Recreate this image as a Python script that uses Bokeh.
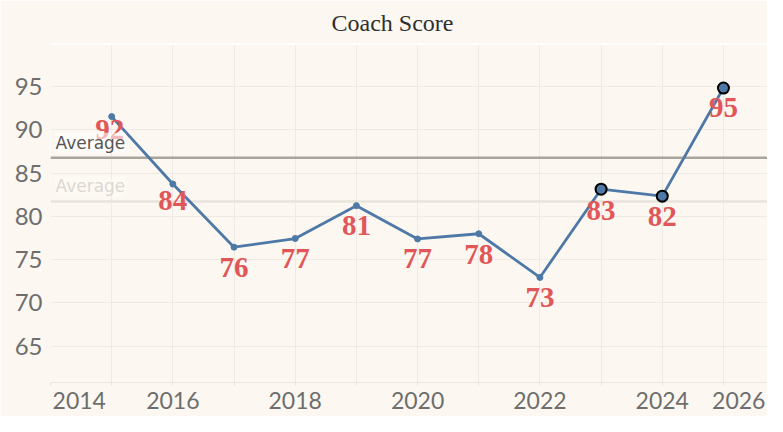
from bokeh.plotting import figure
from bokeh.models import FixedTicker, Span, Label, ColumnDataSource
from bokeh.embed import file_html
from bokeh.resources import INLINE
from bokeh.core.properties import value

# ---- data ----
YEARS = [2015, 2016, 2017, 2018, 2019, 2020, 2021, 2022, 2023, 2024, 2025]
SCORES = [91.55, 83.75, 76.45, 77.45, 81.25, 77.4, 78.0, 72.95, 83.15, 82.35, 94.85]
SCORE_LABELS = ["92", "84", "76", "77", "81", "77", "78", "73", "83", "82", "95"]
HIGHLIGHT_YEARS = [2023, 2024, 2025]
X_TICKS = [2016, 2018, 2020, 2022, 2024]
X_EDGE_LABELS = ["2014", "2026"]
Y_TICKS = [65, 70, 75, 80, 85, 90, 95]
TITLE = "Coach Score"
AVG_TEXT = "Average"

# ---- styling ----
X_START, X_END = 2014, 2025.72
Y_START, Y_END = 60.8, 100
EDGE_SHIFT = 0.47          # edge tick labels are pulled inside the frame (in years)
BG = "#fcf8f1"
GRID = "#efebe4"
BLUE = "#4e79a7"
RED = "#e15759"
TICK_FONT = "Lato"
TICK_COLOR = "#6e6e6e"
LABEL_DX = [-2, 0, 0, 0, 0, 0, 0, 0, 0, 0, 0]
LABEL_DY = [13, 16, 20, 20, 20, 20, 21, 20, 21, 20, 19]

hl = [y in HIGHLIGHT_YEARS for y in YEARS]
avg_all = sum(SCORES) / len(SCORES)
hl_scores = [s for s, h in zip(SCORES, hl) if h]
avg_hl = sum(hl_scores) / len(hl_scores)

src = ColumnDataSource(dict(x=YEARS, y=SCORES, t=SCORE_LABELS, dx=LABEL_DX, dy=LABEL_DY))
src_norm = ColumnDataSource(dict(x=[x for x, h in zip(YEARS, hl) if not h],
                                 y=[s for s, h in zip(SCORES, hl) if not h]))
src_hl = ColumnDataSource(dict(x=[x for x, h in zip(YEARS, hl) if h], y=hl_scores))

p = figure(width=767, height=416, x_range=(X_START, X_END), y_range=(Y_START, Y_END),
           output_backend="svg", toolbar_location=None, tools="",
           min_border_left=50, min_border_right=0, min_border_top=42, min_border_bottom=34)
p.background_fill_color = BG
p.border_fill_color = BG
p.outline_line_color = None

p.title.text = TITLE
p.title.align = "left"
p.title.offset = 281
p.title.text_font = "Liberation Serif"
p.title.text_font_style = "normal"
p.title.text_font_size = "24px"
p.title.text_color = "#2f2f2f"
p.title.standoff = 15
p.title.vertical_align = "bottom"

# grids
all_years = list(range(2014, 2026))
p.xgrid.ticker = FixedTicker(ticks=all_years)
p.ygrid.ticker = FixedTicker(ticks=list(range(60, 101, 5)))
p.xgrid.grid_line_color = GRID
p.ygrid.grid_line_color = GRID

# x axis (edge labels shifted inside, as in the original)
left_pos = X_START + EDGE_SHIFT
right_pos = X_END - EDGE_SHIFT
xa = p.xaxis[0]
xa.ticker = FixedTicker(ticks=[left_pos] + X_TICKS + [right_pos], minor_ticks=all_years)
xa.major_label_overrides = {left_pos: X_EDGE_LABELS[0], right_pos: X_EDGE_LABELS[1]}
xa.axis_line_color = "#ebe7df"
xa.major_tick_line_color = None
xa.minor_tick_line_color = "#e6e2da"
xa.major_tick_out = 0
xa.major_tick_in = 0
xa.minor_tick_out = 3
xa.minor_tick_in = 0
xa.major_label_standoff = 6
xa.major_label_text_font = TICK_FONT
xa.major_label_text_font_size = "23px"
xa.major_label_text_color = TICK_COLOR

# y axis
ya = p.yaxis[0]
ya.ticker = FixedTicker(ticks=Y_TICKS)
ya.axis_line_color = None
ya.major_tick_line_color = None
ya.minor_tick_line_color = None
ya.major_tick_out = 0
ya.major_label_standoff = 8
ya.major_label_text_font = TICK_FONT
ya.major_label_text_font_size = "24px"
ya.major_label_text_color = TICK_COLOR

# average lines
p.add_layout(Span(location=avg_all, dimension="width", line_color="#e8e3db", line_width=2.5, level="underlay"))
p.add_layout(Span(location=avg_hl, dimension="width", line_color="#aaa59c", line_width=2.5, level="underlay"))

# series
p.line("x", "y", source=src, line_color=BLUE, line_width=2.8)
p.scatter("x", "y", source=src_norm, size=6, fill_color=BLUE, line_color=BLUE)
p.scatter("x", "y", source=src_hl, size=11, fill_color=BLUE, line_color="black", line_width=2)
p.text("x", "y", text="t", source=src, x_offset="dx", y_offset="dy",
       text_font=value("Liberation Serif"), text_font_style="bold", text_font_size="29px",
       text_color=RED, text_align="center", text_baseline="middle")

# average labels
p.add_layout(Label(x=X_START, y=avg_all, text=AVG_TEXT, x_offset=5, y_offset=5,
                   text_baseline="bottom", text_font="DejaVu Sans", text_font_size="17px",
                   text_color="#dcd8d1", background_fill_color="white", background_fill_alpha=0.25))
p.add_layout(Label(x=X_START, y=avg_hl, text=AVG_TEXT, x_offset=5, y_offset=5,
                   text_baseline="bottom", text_font="DejaVu Sans", text_font_size="17px",
                   text_color="#555555", background_fill_color="white", background_fill_alpha=0.6))

# separator under the title
p.add_layout(Span(location=Y_END, dimension="width", line_color="white", line_width=3))

open("out.html", "w").write(file_html(p, INLINE))
